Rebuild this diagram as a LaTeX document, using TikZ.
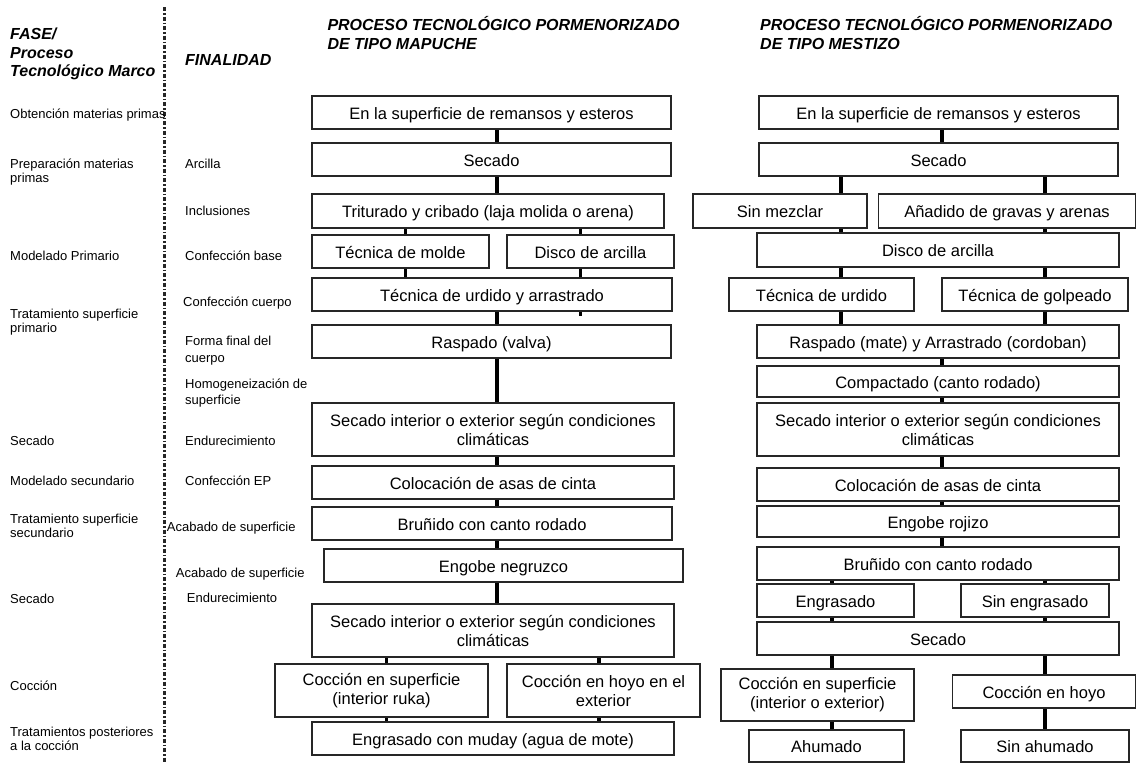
\documentclass[tikz,border=0pt]{standalone}
\usepackage{fontspec}
\setmainfont{Liberation Sans}
\begin{document}
\begin{tikzpicture}[x=1pt,y=-1pt,
  boxbase/.style={draw=black!85, line width=1.5pt, fill=white, inner sep=2pt, align=center,
    font=\fontsize{16.5}{19}\selectfont},
  box/.style={boxbase, text height=13.5pt, text depth=0pt},
  boxtwo/.style={boxbase},
  conn/.style={draw=black, line width=3.4pt},
  lab/.style={anchor=west, inner sep=0pt, align=left, font=\fontsize{13}{14.5}\selectfont},
  head/.style={anchor=west, inner sep=0pt, align=left, font=\fontsize{16}{18.5}\selectfont\bfseries\itshape},
  sepline/.style={draw=black!85, line width=2.2pt, dash pattern=on 4pt off 2pt on 1.5pt off 2pt}]
\useasboundingbox (0,0) rectangle (1137,763);

% separator
\coordinate (sepT) at (164.5,7);
\coordinate (sepB) at (164.5,763);
\draw[sepline] (sepT) -- (sepB);

% headings
\node[head] (hfase) at (10,54) {FASE/\\Proceso\\Tecnológico Marco};
\node[head] (hfin) at (185,59.5) {FINALIDAD};
\node[head] (hmap) at (327.3,33) {PROCESO TECNOLÓGICO PORMENORIZADO\\DE TIPO MAPUCHE};
\node[head] (hmes) at (760,33) {PROCESO TECNOLÓGICO PORMENORIZADO\\DE TIPO MESTIZO};

% left labels
\node[lab] (l1) at (10,115.5) {Obtención materias primas};
\node[lab] (l2) at (10,172) {Preparación materias\\primas};
\node[lab] (l3) at (10,256) {Modelado Primario};
\node[lab] (l4) at (10,322) {Tratamiento superficie\\primario};
\node[lab] (l5) at (10,441) {Secado};
\node[lab] (l6) at (10,481) {Modelado secundario};
\node[lab] (l7) at (10,526) {Tratamiento superficie\\secundario};
\node[lab] (l8) at (10,599) {Secado};
\node[lab] (l9) at (10,686) {Cocción};
\node[lab] (l10) at (10,739) {Tratamientos posteriores\\a la cocción};

% finalidad labels
\node[lab] (f1) at (185,164) {Arcilla};
\node[lab] (f2) at (185,211) {Inclusiones};
\node[lab] (f3) at (185,256) {Confección base};
\node[lab] (f4) at (183,303) {Confección cuerpo};
\node[lab, font=\fontsize{13}{17}\selectfont] (f5) at (185,350.5) {Forma final del\\cuerpo};
\node[lab, font=\fontsize{13}{16}\selectfont] (f6) at (185,393) {Homogeneización de\\superficie};
\node[lab] (f7) at (185,441) {Endurecimiento};
\node[lab] (f8) at (185,481) {Confección EP};
\node[lab] (f9) at (166.7,528) {Acabado de superficie};
\node[lab] (f10) at (175.7,574) {Acabado de superficie};
\node[lab] (f11) at (186.7,598) {Endurecimiento};

% x positions of connectors
\coordinate (xA) at (497,0);
\coordinate (xB) at (405.7,0);
\coordinate (xC) at (580.7,0);
\coordinate (xD) at (386.7,0);
\coordinate (xE) at (599,0);
\coordinate (xF) at (942,0);
\coordinate (xG) at (841,0);
\coordinate (xH) at (1045,0);
\coordinate (xI) at (832,0);
\coordinate (stub) at (580.7,316);

% ---------------- Mapuche boxes ----------------
\node[box, minimum width=359, minimum height=33] (m1) at (491.5,112.5) {En la superficie de remansos y esteros};
\node[box, minimum width=359, minimum height=33] (m2) at (491.5,159.5) {Secado};
\node[box, minimum width=352, minimum height=34] (m3) at (488,211) {Triturado y cribado (laja molida o arena)};
\node[box, minimum width=177, minimum height=33] (m4a) at (400.5,251.5) {Técnica de molde};
\node[box, minimum width=167, minimum height=33] (m4b) at (590.5,251.5) {Disco de arcilla};
\node[box, minimum width=360, minimum height=33] (m5) at (492,294.5) {Técnica de urdido y arrastrado};
\node[box, minimum width=359, minimum height=33] (m6) at (491.5,341.5) {Raspado (valva)};
\node[boxtwo, minimum width=362, minimum height=53] (m7) at (493,429.5) {Secado interior o exterior según condiciones\\climáticas};
\node[box, minimum width=362, minimum height=33] (m8) at (493,482.5) {Colocación de asas de cinta};
\node[box, minimum width=360, minimum height=33] (m9) at (492,523.5) {Bruñido con canto rodado};
\node[box, minimum width=359, minimum height=33] (m10) at (503.5,565.5) {Engobe negruzco};
\node[boxtwo, minimum width=362, minimum height=53] (m11) at (493,630.5) {Secado interior o exterior según condiciones\\climáticas};
\node[boxtwo, minimum width=213, minimum height=53] (m12a) at (381.5,690.5) {Cocción en superficie\\(interior ruka)};
\node[boxtwo, minimum width=193, minimum height=53] (m12b) at (603.5,690.5) {Cocción en hoyo en el\\exterior};
\node[box, minimum width=362, minimum height=33] (m13) at (493,738.5) {Engrasado con muday (agua de mote)};

% ---------------- Mestizo boxes ----------------
\node[box, minimum width=359, minimum height=33] (e1) at (938.5,112.5) {En la superficie de remansos y esteros};
\node[box, minimum width=359, minimum height=33] (e2) at (938.5,159.5) {Secado};
\node[box, minimum width=174, minimum height=34] (e3a) at (780,211) {Sin mezclar};
\node[box, minimum width=257, minimum height=34] (e3b) at (1007,211) {Añadido de gravas y arenas};
\node[box, minimum width=362, minimum height=34] (e4) at (938,250) {Disco de arcilla};
\node[box, minimum width=185, minimum height=33] (e5a) at (821.5,294.5) {Técnica de urdido};
\node[box, minimum width=186, minimum height=33] (e5b) at (1035,294.5) {Técnica de golpeado};
\node[box, minimum width=362, minimum height=33] (e6) at (938,341.5) {Raspado (mate) y Arrastrado (cordoban)};
\node[box, minimum width=362, minimum height=31] (e7) at (938,381.5) {Compactado (canto rodado)};
\node[boxtwo, minimum width=362, minimum height=53] (e8) at (938,429.5) {Secado interior o exterior según condiciones\\climáticas};
\node[box, minimum width=362, minimum height=33] (e9) at (938,484.5) {Colocación de asas de cinta};
\node[box, minimum width=362, minimum height=31] (e10) at (938,521.5) {Engobe rojizo};
\node[box, minimum width=362, minimum height=33] (e11) at (938,563.5) {Bruñido con canto rodado};
\node[box, minimum width=157, minimum height=33] (e12a) at (835.5,600.5) {Engrasado};
\node[box, minimum width=148, minimum height=33] (e12b) at (1035,600.5) {Sin engrasado};
\node[box, minimum width=362, minimum height=33] (e13) at (938,638.5) {Secado};
\node[boxtwo, minimum width=193, minimum height=52] (e14a) at (817.5,695) {Cocción en superficie\\(interior o exterior)};
\node[box, minimum width=183, minimum height=33] (e14b) at (1044,691.5) {Cocción en hoyo};
\node[box, minimum width=155, minimum height=32] (e15a) at (826.5,746) {Ahumado};
\node[box, minimum width=168, minimum height=32] (e15b) at (1045,746) {Sin ahumado};

% ---------------- Mapuche connectors ----------------
\draw[conn] (m1.south -| xA) -- (m2.north -| xA);
\draw[conn] (m2.south -| xA) -- (m3.north -| xA);
\draw[conn] (m3.south -| xB) -- (m4a.north -| xB);
\draw[conn] (m3.south -| xC) -- (m4b.north -| xC);
\draw[conn] (m4a.south -| xB) -- (m5.north -| xB);
\draw[conn] (m4b.south -| xC) -- (m5.north -| xC);
\draw[conn] (m5.south -| xC) -- (stub);
\draw[conn] (m5.south -| xA) -- (m6.north -| xA);
\draw[conn] (m6.south -| xA) -- (m7.north -| xA);
\draw[conn] (m7.south -| xA) -- (m8.north -| xA);
\draw[conn] (m8.south -| xA) -- (m9.north -| xA);
\draw[conn] (m9.south -| xA) -- (m10.north -| xA);
\draw[conn] (m10.south -| xA) -- (m11.north -| xA);
\draw[conn] (m11.south -| xD) -- (m12a.north -| xD);
\draw[conn] (m11.south -| xE) -- (m12b.north -| xE);
\draw[conn] (m12a.south -| xD) -- (m13.north -| xD);
\draw[conn] (m12b.south -| xE) -- (m13.north -| xE);

% ---------------- Mestizo connectors ----------------
\draw[conn] (e1.south -| xF) -- (e2.north -| xF);
\draw[conn] (e2.south -| xG) -- (e3a.north -| xG);
\draw[conn] (e2.south -| xH) -- (e3b.north -| xH);
\draw[conn] (e3a.south -| xG) -- (e4.north -| xG);
\draw[conn] (e3b.south -| xH) -- (e4.north -| xH);
\draw[conn] (e4.south -| xG) -- (e5a.north -| xG);
\draw[conn] (e4.south -| xH) -- (e5b.north -| xH);
\draw[conn] (e5a.south -| xG) -- (e6.north -| xG);
\draw[conn] (e5b.south -| xH) -- (e6.north -| xH);
\draw[conn] (e6.south -| xF) -- (e7.north -| xF);
\draw[conn] (e7.south -| xF) -- (e8.north -| xF);
\draw[conn] (e8.south -| xF) -- (e9.north -| xF);
\draw[conn] (e9.south -| xF) -- (e10.north -| xF);
\draw[conn] (e10.south -| xF) -- (e11.north -| xF);
\draw[conn] (e11.south -| xI) -- (e12a.north -| xI);
\draw[conn] (e11.south -| xH) -- (e12b.north -| xH);
\draw[conn] (e12a.south -| xI) -- (e13.north -| xI);
\draw[conn] (e12b.south -| xH) -- (e13.north -| xH);
\draw[conn] (e13.south -| xI) -- (e14a.north -| xI);
\draw[conn] (e13.south -| xH) -- (e14b.north -| xH);
\draw[conn] (e14a.south -| xI) -- (e15a.north -| xI);
\draw[conn] (e14b.south -| xH) -- (e15b.north -| xH);
\end{tikzpicture}
\end{document}
